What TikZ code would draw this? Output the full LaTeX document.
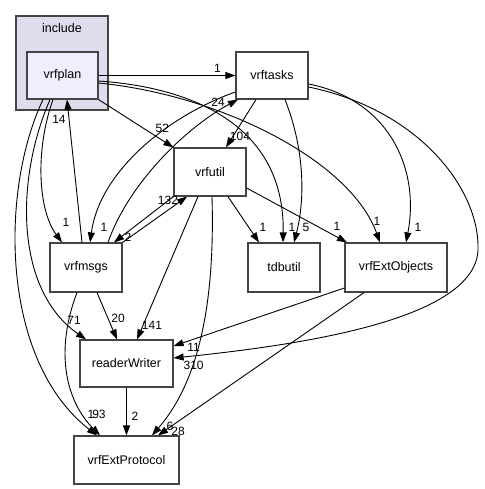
\documentclass[tikz,border=0pt]{standalone}
\usepackage{fontspec}
\setmainfont{Liberation Sans}
\usetikzlibrary{positioning,arrows.meta}
\definecolor{clusterfill}{HTML}{DDDDEE}
\definecolor{planfill}{HTML}{EEEEFF}
\definecolor{dirline}{HTML}{444444}

\begin{document}
\begin{tikzpicture}[x=1pt,y=-1pt,on grid,>={Triangle[length=10pt,width=7pt]},
  dir/.style={draw=dirline,fill=white,line width=1.2pt,minimum width=72pt,minimum height=48pt,inner sep=0pt,font=\fontsize{12.5}{14}\selectfont},
  cluster/.style={draw=dirline,fill=clusterfill,line width=1.2pt,minimum width=92pt,minimum height=94pt,inner sep=0pt},
  dep/.style={->,line width=0.9pt},
  lbl/.style={at end,inner sep=0pt,font=\fontsize{12}{14}\selectfont}]
  \useasboundingbox (0,0) rectangle (484,489);
               \node[cluster] (incl) at (62,63) {};
               \node[font=\fontsize{12.5}{14}\selectfont] (incl_title) at (62,28) {include};
               \node[dir, fill=planfill, minimum width=71pt, minimum height=47pt] (vrfplan) at (62.5,75.5) {vrfplan};
               \node[dir, minimum height=47pt] (vrftasks) [right=209.5pt of vrfplan] {vrftasks};
               \node[dir] (vrfutil) [below left=96.5pt and 62pt of vrftasks] {vrfutil};
               \node[dir, minimum height=49pt] (vrfmsgs) [below left=95.5pt and 124pt of vrfutil] {vrfmsgs};
               \node[dir, minimum height=49pt] (tdbutil) [right=198pt of vrfmsgs] {tdbutil};
               \node[dir, minimum width=102pt, minimum height=49pt] (vrfExtObjects) [right=112pt of tdbutil] {vrfExtObjects};
               \node[dir, minimum width=93pt, minimum height=47pt] (readerWriter) [below right=96pt and 40.5pt of vrfmsgs] {readerWriter};
               \node[dir, minimum width=105pt] (vrfExtProtocol) [below=96.5pt of readerWriter] {vrfExtProtocol};
		% vrfplan
		\draw[dep] (vrfplan.east) -- (vrftasks.west) node[lbl,xshift=-18pt,yshift=7.5pt] {1};
		\draw[dep] (vrfplan.south east) -- (vrfutil.north west) node[lbl,xshift=-11pt,yshift=19pt] {52};
		\draw[dep] ([yshift=-5.5pt]vrfplan.east) .. controls (200,88) and (285,130) .. ([xshift=-1pt]tdbutil.north) node[lbl,xshift=9pt,yshift=15pt] {1};
		\draw[dep] ([yshift=-7.5pt]vrfplan.east) .. controls (220,95) and (350,160) .. ([xshift=-16pt]vrfExtObjects.north) node[lbl,xshift=-3pt,yshift=21pt] {1};
		\draw[dep] ([xshift=-9.5pt]vrfplan.south) .. controls (35,150) and (38,210) .. ([xshift=-24pt]vrfmsgs.north) node[lbl,xshift=4pt,yshift=20pt] {1};
		\draw[dep] ([xshift=-12.5pt]vrfplan.south) .. controls (15,180) and (15,290) .. ([xshift=-40.5pt]readerWriter.north) node[lbl,xshift=-12pt,yshift=19pt] {71};
		\draw[dep] ([xshift=-19.5pt]vrfplan.south) .. controls (0,190) and (0,360) .. ([xshift=-29.5pt]vrfExtProtocol.north) node[lbl,xshift=-6pt,yshift=21pt] {1};
		% vrftasks
		\draw[dep] ([xshift=-16pt]vrftasks.south) -- ([xshift=16pt]vrfutil.north) node[lbl,xshift=14pt,yshift=11pt] {104};
		\draw[dep] ([yshift=-16.5pt]vrftasks.west) .. controls (170,115) and (100,170) .. ([xshift=4pt]vrfmsgs.north) node[lbl,xshift=14pt,yshift=15pt] {1};
		\draw[dep] ([xshift=13pt]vrftasks.south) .. controls (305,150) and (305,200) .. ([xshift=10pt]tdbutil.north) node[lbl,xshift=12pt,yshift=15pt] {5};
		\draw[dep] ([yshift=-8.5pt]vrftasks.east) .. controls (390,100) and (420,170) .. ([xshift=10pt]vrfExtObjects.north) node[lbl,xshift=12pt,yshift=15pt] {1};
		\draw[dep] ([yshift=-11.5pt]vrftasks.east) .. controls (420,110) and (480,190) .. (478,250) .. controls (475,320) and (300,345) .. ([yshift=5.5pt]readerWriter.east) node[lbl,xshift=20pt,yshift=-7pt] {310};
		% vrfutil
		\draw[dep] (vrfutil.south west) -- ([xshift=28pt]vrfmsgs.north) node[lbl,xshift=14pt,yshift=5pt] {2};
		\draw[dep] ([xshift=18pt]vrfutil.south) -- ([xshift=-25pt]tdbutil.north) node[lbl,xshift=4pt,yshift=15pt] {1};
		\draw[dep] ([yshift=-16pt]vrfutil.east) -- ([xshift=-49pt]vrfExtObjects.north) node[lbl,xshift=-10pt,yshift=16pt] {1};
		\draw[dep] ([xshift=-12pt]vrfutil.south) -- ([xshift=10.5pt]readerWriter.north) node[lbl,xshift=15pt,yshift=14pt] {141};
		\draw[dep] ([xshift=2pt]vrfutil.south) .. controls (215,300) and (200,380) .. ([xshift=25.5pt]vrfExtProtocol.north) node[lbl,xshift=18pt,yshift=9pt] {6};
		% vrfmsgs
		\draw[dep] ([xshift=-4pt]vrfmsgs.north) -- ([xshift=4.5pt]vrfplan.south) node[lbl,xshift=-8pt,yshift=-20pt] {14};
		\draw[dep] ([xshift=22pt]vrfmsgs.north) .. controls (130,180) and (190,125) .. ([xshift=-34pt]vrftasks.south) node[lbl,xshift=-20pt,yshift=-3pt] {24};
		\draw[dep] (vrfmsgs.north east) -- ([xshift=-23pt]vrfutil.south) node[lbl,xshift=-19pt,yshift=-4pt] {132};
		\draw[dep] ([xshift=11pt]vrfmsgs.south) -- ([xshift=-9.5pt]readerWriter.north) node[lbl,xshift=1pt,yshift=21pt] {20};
		\draw[dep] ([xshift=-9pt]vrfmsgs.south) .. controls (55,350) and (65,400) .. ([xshift=-26.5pt]vrfExtProtocol.north) node[lbl,xshift=-1pt,yshift=21pt] {93};
		% vrfExtObjects, readerWriter
		\draw[dep] ([yshift=-20.5pt]vrfExtObjects.west) -- ([yshift=17.5pt]readerWriter.east) node[lbl,xshift=20pt,yshift=-1pt] {11};
		\draw[dep] ([xshift=-32pt]vrfExtObjects.south) -- ([xshift=31.5pt]vrfExtProtocol.north) node[lbl,xshift=20pt,yshift=4pt] {28};
		\draw[dep] (readerWriter.south) -- (vrfExtProtocol.north) node[lbl,xshift=8.5pt,yshift=19pt] {2};
            \end{tikzpicture}
\end{document}
